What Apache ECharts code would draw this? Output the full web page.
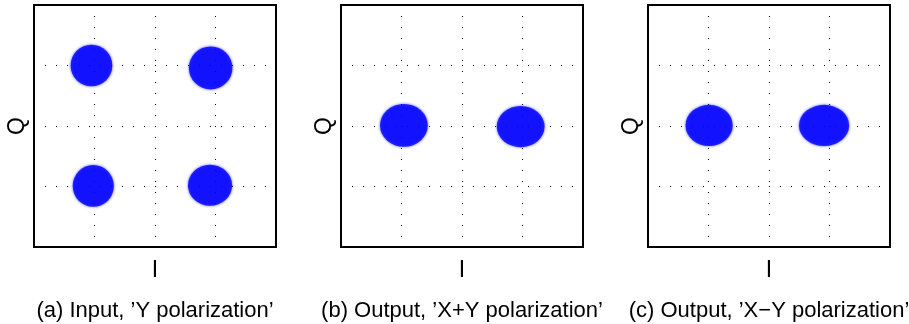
<!DOCTYPE html>
<html>
<head>
<meta charset="utf-8">
<script src="https://cdn.jsdelivr.net/npm/echarts@6/dist/echarts.min.js"></script>
<style>
  html, body { margin: 0; padding: 0; background: #fff; }
  #chart { width: 909px; height: 324px; }
</style>
</head>
<body>
<div id="chart"></div>
<script>
// cluster centres [I, Q] and cluster extent [dI, dQ] in axis units
const inputY = [[-1.05, 1.0, 0.69, 0.69], [0.92, 0.96, 0.72, 0.71], [-1.02, -0.99, 0.68, 0.69], [0.91, -0.98, 0.73, 0.68]]
const outputXplusY = [[-0.96, 0.01, 0.79, 0.71], [0.97, -0.01, 0.79, 0.68]]
const outputXminusY = [[-0.99, 0.01, 0.78, 0.68], [0.91, 0.01, 0.83, 0.68]]

const captions = ['(a) Input, \u2019Y polarization\u2019', '(b) Output, \u2019X+Y polarization\u2019', '(c) Output, \u2019X\u2212Y polarization\u2019']
const axisTicks = [-2, -1, 0, 1, 2]

const FONT = '"Liberation Sans", Arial, sans-serif'
const plotLeft = [34, 341, 648]
const plotTop = 5
const plotSize = 242
const pxPerUnit = plotSize / (axisTicks[axisTicks.length - 1] - axisTicks[0])

const chart = echarts.init(document.getElementById('chart'))

const grids = [], xAxes = [], yAxes = [], series = [], texts = []
const panels = [inputY, outputXplusY, outputXminusY]
// MATLAB style dotted grid
const gridLine = {
    show: true,
    lineStyle: { color: '#000', width: 1, type: [1, 10] }
}
panels.forEach((data, i) => {
    grids.push({
        left: plotLeft[i], top: plotTop, width: plotSize, height: plotSize,
        show: true, borderColor: '#000', borderWidth: 2, backgroundColor: '#fff'
    })
    xAxes.push({
        gridIndex: i, type: 'value', min: axisTicks[0], max: axisTicks[axisTicks.length - 1], interval: 1,
        name: 'I', nameLocation: 'middle', nameGap: 12,
        nameTextStyle: { fontFamily: FONT, fontSize: 23, color: '#000' },
        axisLine: { show: false }, axisTick: { show: false }, axisLabel: { show: false },
        splitLine: gridLine
    })
    yAxes.push({
        gridIndex: i, type: 'value', min: axisTicks[0], max: axisTicks[axisTicks.length - 1], interval: 1,
        name: 'Q', nameLocation: 'middle', nameGap: 5, nameRotate: 90,
        nameTextStyle: { fontFamily: FONT, fontSize: 23, color: '#000' },
        axisLine: { show: false }, axisTick: { show: false }, axisLabel: { show: false },
        splitLine: gridLine
    })
    series.push({
        type: 'scatter', xAxisIndex: i, yAxisIndex: i,
        data: data,
        symbol: 'circle',
        symbolSize: v => [v[2] * pxPerUnit, v[3] * pxPerUnit],
        itemStyle: { color: '#0000ff', shadowBlur: 3, shadowColor: 'rgba(0,0,255,0.8)' },
        silent: true
    })
    texts.push({
        type: 'text',
        x: plotLeft[i] + plotSize / 2, y: 311,
        style: {
            text: captions[i], fontFamily: FONT, fontSize: 22, fill: '#000',
            textAlign: 'center', textVerticalAlign: 'middle'
        }
    })
})

chart.setOption({
    backgroundColor: '#fff',
    animation: false,
    grid: grids,
    xAxis: xAxes,
    yAxis: yAxes,
    series: series,
    graphic: texts
})
</script>
</body>
</html>
